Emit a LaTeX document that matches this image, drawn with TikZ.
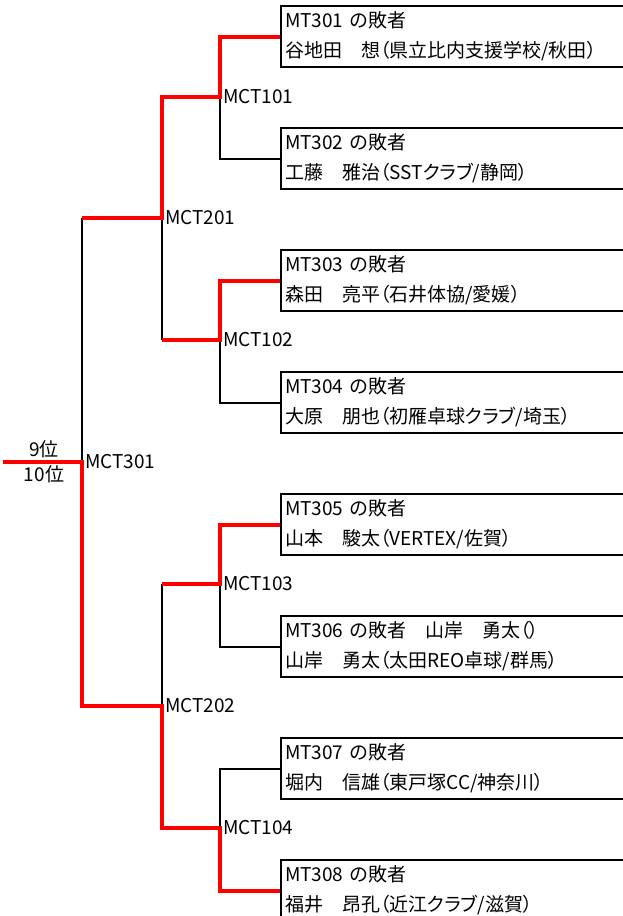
\documentclass[tikz,border=0pt]{standalone}
\usepackage{fontspec}
\setmainfont{Noto Sans CJK JP}[RawFeature={+palt}]
\usepackage{tikz}
\usetikzlibrary{positioning}
\definecolor{winred}{RGB}{255,0,0}
\tikzstyle{player} = [draw, line width=2pt, anchor=north west, minimum height=61pt, text width=352pt, inner xsep=4pt, inner ysep=0pt, align=left, font=\fontsize{19}{30}\selectfont]
\tikzstyle{match} = [anchor=west, inner xsep=3pt, inner ysep=2pt, font=\fontsize{19}{22}\selectfont]
\tikzstyle{rank} = [align=center, inner sep=0pt, font=\fontsize{19}{25}\selectfont]
\tikzstyle{winline} = [line width=4pt, color=winred]
\tikzstyle{loseline} = [line width=2pt, color=black]

\begin{document}
\begin{tikzpicture}[x=1pt, y=-1pt]
\clip (0,0) rectangle (623,916);

% Players
\node[player] (p1) at (280,5) {MT301 の敗者\\谷地田　想（県立比内支援学校/秋田）};
\node[player] (p2) at (280,127) {MT302 の敗者\\工藤　雅治（SSTクラブ/静岡）};
\node[player] (p3) at (280,249) {MT303 の敗者\\森田　亮平（石井体協/愛媛）};
\node[player] (p4) at (280,371) {MT304 の敗者\\大原　朋也（初雁卓球クラブ/埼玉）};
\node[player] (p5) at (280,493) {MT305 の敗者\\山本　駿太（VERTEX/佐賀）};
\node[player] (p6) at (280,615) {MT306 の敗者　山岸　勇太（）\\山岸　勇太（太田REO卓球/群馬）};
\node[player] (p7) at (280,737) {MT307 の敗者\\堀内　信雄（東戸塚CC/神奈川）};
\node[player] (p8) at (280,859) {MT308 の敗者\\福井　昂孔（近江クラブ/滋賀）};

% Matches
\node[match] (mct101) at (220,97) {MCT101};
\node[match] (mct102) at (220,340) {MCT102};
\node[match] (mct103) at (220,584) {MCT103};
\node[match] (mct104) at (220,828) {MCT104};
\node[match] (mct201) at (162,218) {MCT201};
\node[match] (mct202) at (162,706) {MCT202};
\node[match] (mct301) at (82,462) {MCT301};

\node[rank] (place) at (44,462) {9位\\10位};
\coordinate (start) at (3,462);

% Bracket lines
\draw[loseline] (p2.west) -| (mct101.west);
\draw[loseline] (p4.west) -| (mct102.west);
\draw[loseline] (p6.west) -| (mct103.west);
\draw[loseline] (p7.west) -| (mct104.west);
\draw[loseline] (mct201.west) -- (mct201.west |- mct102.west);
\draw[loseline] (mct202.west) -- (mct202.west |- mct103.west);
\draw[loseline] (mct301.west) -- (mct301.west |- mct201.west);

% Winners
\draw[winline] (p1.west) -| (mct101.west) -| (mct201.west) -- (mct201.west -| mct301.west);
\draw[winline] (p3.west) -| (mct102.west) -- (mct102.west -| mct201.west);
\draw[winline] (p5.west) -| (mct103.west) -- (mct103.west -| mct202.west);
\draw[winline] (p8.west) -| (mct104.west) -| (mct202.west) -| (mct301.west) -- (start);
\end{tikzpicture}
\end{document}
